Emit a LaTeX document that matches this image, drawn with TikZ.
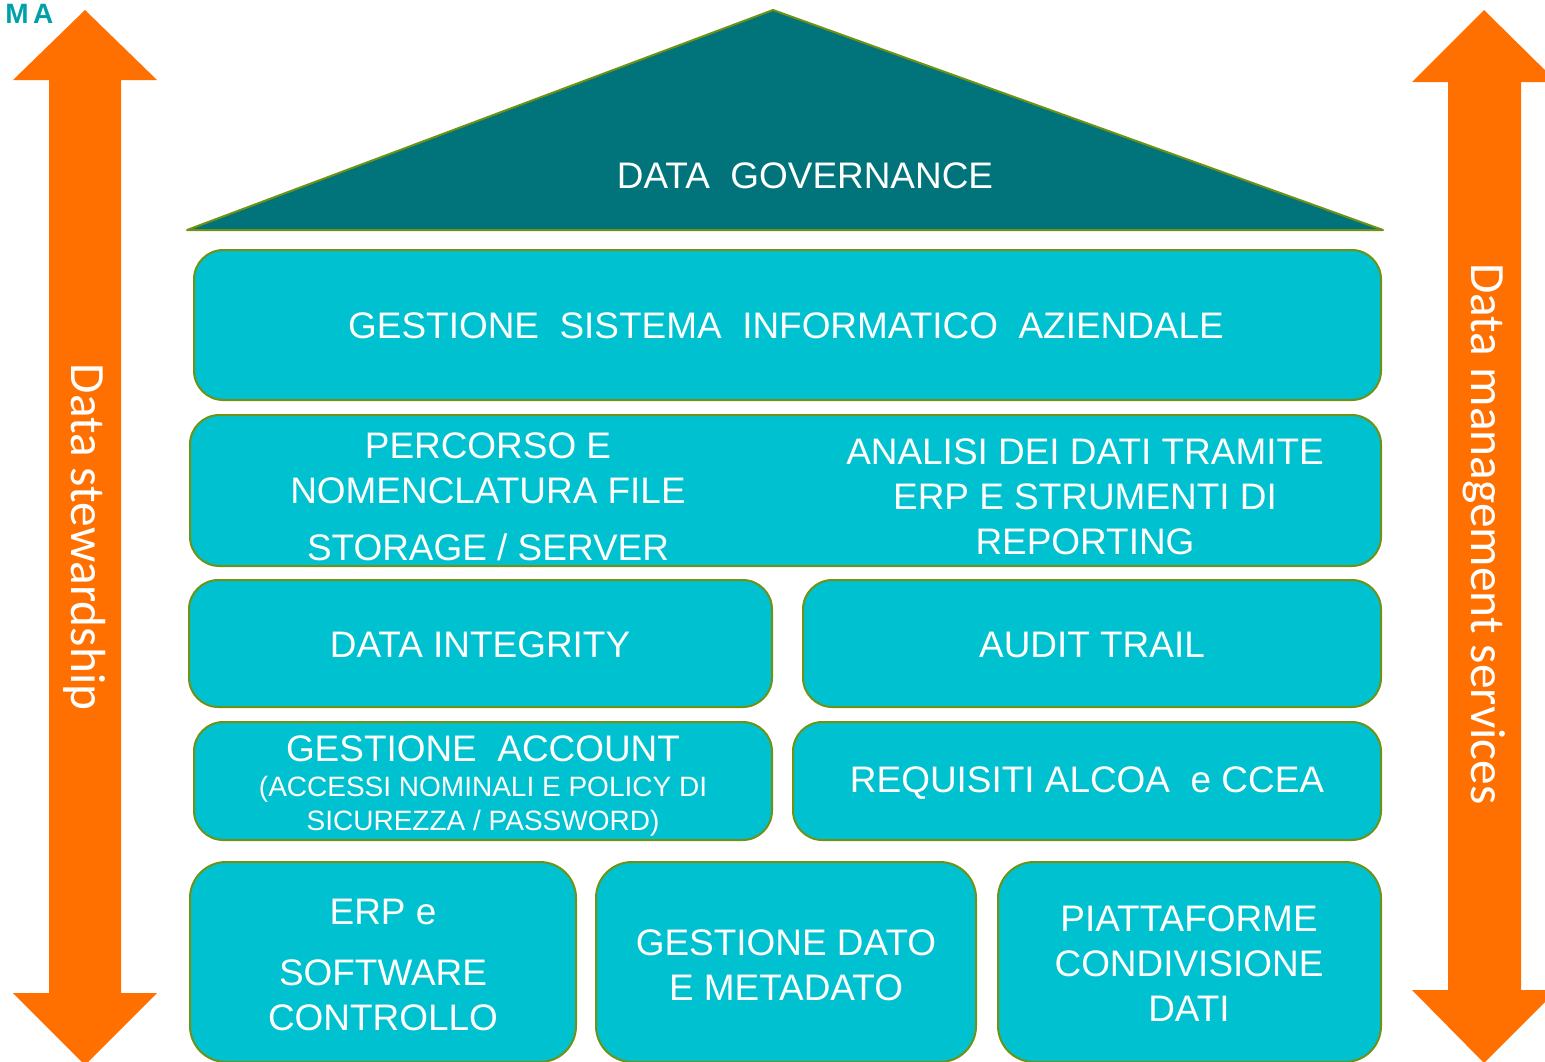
\documentclass[tikz,border=0pt]{standalone}
\usepackage{fontspec}
\setmainfont{Liberation Sans}
\newfontfamily\sidefont{Carlito}

\definecolor{roofteal}{RGB}{0,116,122}
\definecolor{boxcyan}{RGB}{0,193,208}
\definecolor{olive}{RGB}{112,146,20}
\definecolor{arroworange}{RGB}{255,112,0}
\definecolor{titleteal}{RGB}{0,160,168}

\tikzset{
  pillar/.style={draw=olive, line width=1.5pt, fill=boxcyan, rounded corners=22pt},
  boxtext/.style={text=white, inner sep=0.75pt, align=center,
    font=\fontsize{27.7}{33.75}\selectfont},
  smalltext/.style={text=white, inner sep=0.75pt, align=center,
    font=\fontsize{21}{25.5}\selectfont},
  sidetext/.style={text=white, inner sep=0.75pt, rotate=-90,
    font=\sidefont\fontsize{37}{42}\selectfont},
  bigarrow/.style={fill=arroworange, draw=none}
}

\begin{document}
\begin{tikzpicture}[x=0.75pt,y=0.75pt,yscale=-1,xscale=1]
    \useasboundingbox (0,0) rectangle (1545,1061);

    % Text Node
    \node [anchor=base west, inner sep=0pt, text=titleteal, font=\bfseries\fontsize{21}{24}\selectfont] (ma) at (5,23) {M\,A};

    %Shape: Double Arrow left
    \fill [bigarrow] (85,10) -- (157,80) -- (121,80) -- (121,993) -- (157,993) -- (85,1065) -- (13,993) -- (49,993) -- (49,80) -- (13,80) -- cycle ;
    %Shape: Double Arrow right
    \fill [bigarrow] (1484,10) -- (1557,82) -- (1521,82) -- (1521,990) -- (1557,990) -- (1484,1063) -- (1412,990) -- (1448,990) -- (1448,82) -- (1412,82) -- cycle ;

    %Shape: Triangle roof
    \draw [draw=olive, line width=1.5pt, fill=roofteal, line join=round] (187,230) -- (773,10) -- (1383,230) -- cycle ;

    %Shape: Rounded Rect
    \draw [pillar] (194,250) rectangle (1381,400) ;
    %Shape: Rounded Rect
    \draw [pillar] (190,415) rectangle (1381,566) ;
    %Shape: Rounded Rect
    \draw [pillar] (189,580) rectangle (772,707) ;
    %Shape: Rounded Rect
    \draw [pillar] (803,580) rectangle (1381,707) ;
    %Shape: Rounded Rect
    \draw [pillar] (194,722) rectangle (772,840) ;
    %Shape: Rounded Rect
    \draw [pillar] (793,722) rectangle (1381,840) ;
    %Shape: Rounded Rect
    \draw [pillar, rounded corners=27pt] (190,862) rectangle (576,1062) ;
    %Shape: Rounded Rect
    \draw [pillar, rounded corners=27pt] (596,862) rectangle (976,1062) ;
    %Shape: Rounded Rect
    \draw [pillar, rounded corners=27pt] (998,862) rectangle (1381,1062) ;

    % Text Node
    \node [boxtext] (governance) at (805,176) {DATA~~GOVERNANCE};
    % Text Node
    \node [boxtext] (sistema) at (786,326) {GESTIONE~~SISTEMA~~INFORMATICO~~AZIENDALE};
    % Text Node
    \node [boxtext] (percorso) at (488,497) {PERCORSO E\\NOMENCLATURA FILE\\[9pt]STORAGE / SERVER};
    % Text Node
    \node [boxtext] (analisi) at (1085,497) {ANALISI DEI DATI TRAMITE\\ERP E STRUMENTI DI\\REPORTING};
    % Text Node
    \node [boxtext] (integrity) at (480,645) {DATA INTEGRITY};
    % Text Node
    \node [boxtext] (audit) at (1092,645) {AUDIT TRAIL};
    % Text Node
    \node [boxtext] (account) at (483,749) {GESTIONE~~ACCOUNT};
    % Text Node
    \node [smalltext] (accessi) at (483,806) {(ACCESSI NOMINALI E POLICY DI\\SICUREZZA / PASSWORD)};
    % Text Node
    \node [boxtext] (alcoa) at (1087,783) {REQUISITI ALCOA~~e CCEA};
    % Text Node
    \node [boxtext] (erp) at (383,965) {ERP e\\[12pt]SOFTWARE\\CONTROLLO};
    % Text Node
    \node [boxtext] (metadato) at (786,965) {GESTIONE DATO\\E METADATO};
    % Text Node
    \node [boxtext] (piattaforme) at (1189,964) {PIATTAFORME\\CONDIVISIONE\\DATI};

    % Text Node
    \node [sidetext] (stewardship) at (85,537) {Data stewardship};
    % Text Node
    \node [sidetext] (services) at (1484,534) {Data management services};

\end{tikzpicture}
\end{document}
